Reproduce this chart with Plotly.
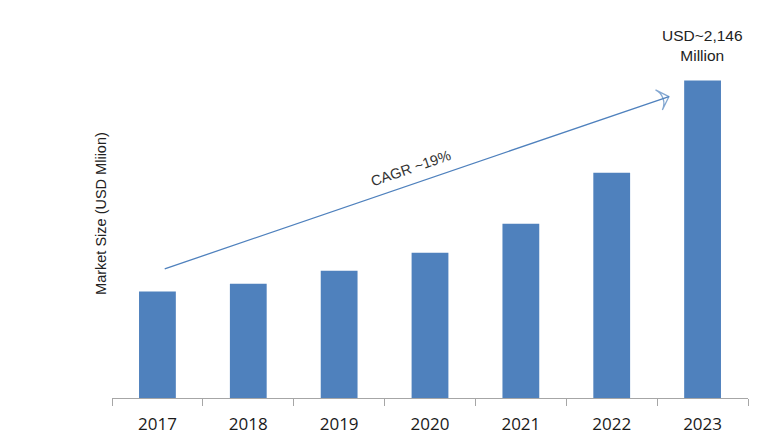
import plotly.graph_objects as go

years = ["2017", "2018", "2019", "2020", "2021", "2022", "2023"]
market_size = [720, 772, 860, 982, 1178, 1523, 2146]
y_title = "Market Size (USD Mliion)"
cagr_label = "CAGR ~19%"
top_label = "USD~2,146<br>Million"

# arrow endpoints (data units)
arrow_x = [0.08, 5.63]
arrow_y = [873, 2038]

xs = list(range(len(years)))

fig = go.Figure()
fig.add_trace(go.Bar(x=xs, y=market_size, marker_color="#4F81BD",
                     marker_line_width=0, width=0.405, hoverinfo="skip"))
fig.add_trace(go.Scatter(x=arrow_x, y=arrow_y, mode="lines+markers",
                         line=dict(color="#4F81BD", width=1.3),
                         marker=dict(symbol=["line-ew", "arrow-wide-open"], size=[0, 15],
                                     angleref="previous", color="#4F81BD",
                                     line=dict(color="#4F81BD", width=1.3)),
                         hoverinfo="skip"))

fig.add_annotation(x=(arrow_x[0] + arrow_x[1]) / 2 - 0.06, y=(arrow_y[0] + arrow_y[1]) / 2 + 100,
                   text=cagr_label, showarrow=False, textangle=-19,
                   font=dict(family="Liberation Sans, Arial", size=14.5, color="#333333"))
fig.add_annotation(x=xs[-1], y=market_size[-1], yanchor="bottom", yshift=15,
                   text=top_label, showarrow=False,
                   font=dict(family="Liberation Sans, Arial", size=15.5, color="#222222"))
fig.add_annotation(xref="paper", yref="paper", x=-0.017, y=0.519, xanchor="center", yanchor="middle",
                   text=y_title, showarrow=False, textangle=-90,
                   font=dict(family="Liberation Sans, Arial", size=14.5, color="#222222"))

fig.update_layout(
    width=768, height=444, showlegend=False,
    margin=dict(l=104, r=28, t=35, b=54),
    plot_bgcolor="white", paper_bgcolor="white",
    xaxis=dict(range=[-0.5, 6.5], tickvals=xs, ticktext=years, ticks="",
               ticklabelstandoff=11,
               showline=True, linecolor="#A6A6A6", linewidth=1, showgrid=False, zeroline=False,
               tickfont=dict(family="Open Sans, Liberation Sans", size=17, color="#1a1a1a"),
               minor=dict(ticks="outside", tick0=-0.5, dtick=1, ticklen=7,
                          tickcolor="#A6A6A6", showgrid=False)),
    yaxis=dict(range=[0, 2400], showticklabels=False, showgrid=False, zeroline=False,
               showline=False, ticks=""),
)

fig.write_html("out.html")
